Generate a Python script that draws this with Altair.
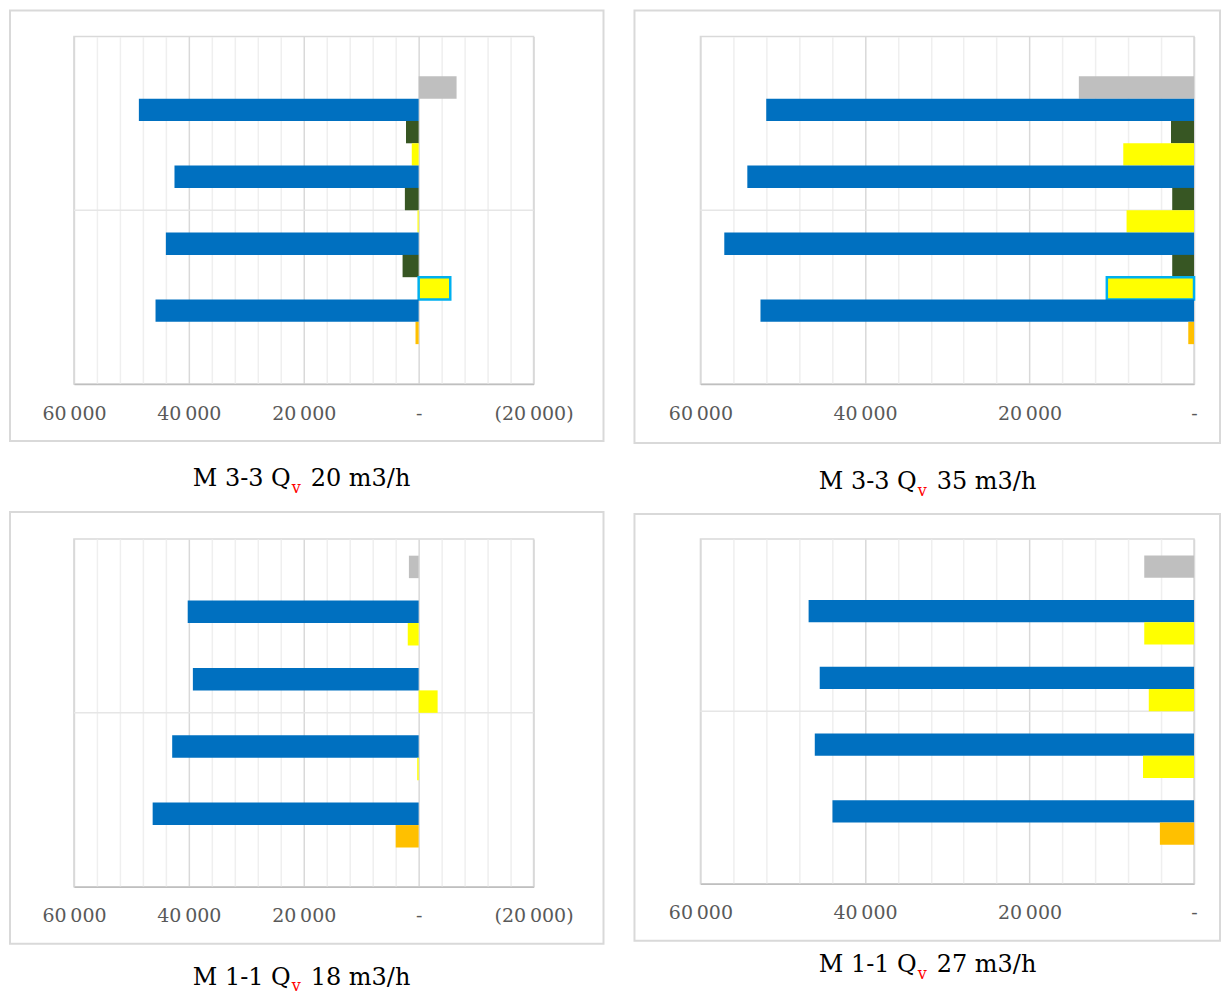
import altair as alt
import pandas as pd

# ---------------- data ----------------
# order of bar slots from top to bottom (None = empty slot)
SLOTS_TOP = ["Gray", "Blue", "Green", "Yellow", "Blue", "Green", "Yellow",
             "Blue", "Green", "Yellow", "Blue", "Orange"]
SLOTS_BOTTOM = ["Gray", None, "Blue", "Yellow", None, "Blue", "Yellow",
                None, "Blue", "Yellow", None, "Blue", "Orange", None]

VALUES_M33_Q20 = [-6600, 48700, 2200, 1200, 42500, 2400, 200, 44000, 2800, -5500, 45800, 550]
VALUES_M33_Q35 = [14000, 52000, 2800, 8600, 54300, 2650, 8200, 57100, 2650, 10600, 52700, 700]
VALUES_M11_Q18 = [1700, None, 40200, 1900, None, 39300, -3300, None, 42900, 250, None, 46300, 4000, None]
VALUES_M11_Q27 = [6050, None, 46850, 6050, None, 45500, 5500, None, 46100, 6200, None, 43950, 4150, None]

TICKS_LEFT = [-20000, -16000, -12000, -8000, -4000, 0, 4000, 8000, 12000, 16000,
              20000, 24000, 28000, 32000, 36000, 40000, 44000, 48000, 52000, 56000, 60000]
TICKS_RIGHT = [0, 4000, 8000, 12000, 16000, 20000, 24000, 28000, 32000, 36000,
               40000, 44000, 48000, 52000, 56000, 60000]

TITLE_MAIN = ["M 3-3 Q", "M 3-3 Q", "M 1-1 Q", "M 1-1 Q"]
TITLE_SUB = ["v", "v", "v", "v"]
TITLE_REST = ["20 m3/h", "35 m3/h", "18 m3/h", "27 m3/h"]

# ---------------- style ----------------
SERIES = ["Gray", "Blue", "Green", "Yellow", "Orange"]
COLORS_TOP = ["#BFBFBF", "#0070C0", "#375623", "#FFFF00", "#FFC000"]
COLORS_BOTTOM = ["#C8C8C8", "#0070C0", "#375623", "#FFFF00", "#FFC000"]
FONT = "DejaVu Serif"

LABEL_EXPR = (
    "datum.value === 0 ? '-' : (datum.value % 20000 !== 0 ? '' : "
    "(datum.value < 0 ? '(' + replace(format(-datum.value, ','), ',', '\u2009') + ')' "
    ": replace(format(datum.value, ','), ',', '\u2009')))"
)

one = pd.DataFrame({"k": [0]})


def panel(idx, slots, values, ticks, width, height, pad_outer, edge_slots, frame,
          anchor, base, sub_dy, colors, highlight=None):
    slot_ids = [f"s{i:02d}" for i in range(len(slots))]
    rows = [dict(slot=s, series=ser, value=v)
            for s, ser, v in zip(slot_ids, slots, values) if v is not None]
    df = pd.DataFrame(rows)
    domain = slot_ids
    if edge_slots:
        domain = ["pad_top"] + slot_ids + ["pad_bottom"]

    xscale = alt.Scale(domain=[min(ticks), max(ticks)], reverse=True, nice=False, zero=True)
    axis = alt.Axis(
        values=ticks, labelExpr=LABEL_EXPR, title=None, ticks=False,
        labelFont=FONT, labelFontSize=19, labelColor="#595959", labelPadding=20,
        labelOverlap=False, labelFlush=False, labelBound=False,
        domain=True, domainColor="#BFBFBF", domainWidth=1.5,
        grid=True, gridWidth=1.5,
        gridColor={"condition": {"test": "datum.value % 20000 === 0", "value": "#D9D9D9"},
                   "value": "#EFEFEF"},
    )

    if highlight is not None:
        hl = alt.datum.slot == slot_ids[highlight]
        stroke = alt.condition(hl, alt.value("#00B0F0"), alt.value("transparent"))
        sw = alt.condition(hl, alt.value(2.5), alt.value(0))
    else:
        stroke = alt.value("transparent")
        sw = alt.value(0)

    bars = alt.Chart(df).mark_bar().encode(
        x=alt.X("value:Q", scale=xscale, axis=axis),
        y=alt.Y("slot:N", scale=alt.Scale(domain=domain, paddingInner=0,
                                          paddingOuter=pad_outer), axis=None),
        color=alt.Color("series:N", scale=alt.Scale(domain=SERIES, range=colors), legend=None),
        stroke=stroke,
        strokeWidth=sw,
    )

    fl, fr, ft, fb = frame
    frame_mark = alt.Chart(one).mark_rect(fill="transparent", stroke="#D9D9D9",
                                          strokeWidth=2).encode(
        x=alt.value(fl), x2=alt.value(width + fr),
        y=alt.value(ft), y2=alt.value(height + fb))

    mid = alt.Chart(one).mark_rule(color="#E6E6E6", strokeWidth=1.5).encode(
        x=alt.value(0), x2=alt.value(width), y=alt.value(height / 2))

    t1 = alt.Chart(one).mark_text(font=FONT, fontSize=24, align="right",
                                  baseline="alphabetic", color="#000000").encode(
        x=alt.value(anchor), y=alt.value(base), text=alt.value(TITLE_MAIN[idx]))
    t2 = alt.Chart(one).mark_text(font=FONT, fontSize=16, align="left",
                                  baseline="alphabetic", color="#FF0000").encode(
        x=alt.value(anchor + 1), y=alt.value(base + sub_dy), text=alt.value(TITLE_SUB[idx]))
    t3 = alt.Chart(one).mark_text(font=FONT, fontSize=24, align="left",
                                  baseline="alphabetic", color="#000000").encode(
        x=alt.value(anchor + 20), y=alt.value(base), text=alt.value(TITLE_REST[idx]))

    return alt.layer(frame_mark, mid, bars, t1, t2, t3).properties(width=width, height=height)


p1 = panel(0, SLOTS_TOP, VALUES_M33_Q20, TICKS_LEFT, 460, 348, 0.79, True,
           (-64, 70, -26, 57), 217, 450, 7, COLORS_TOP, highlight=9)
p2 = panel(1, SLOTS_TOP, VALUES_M33_Q35, TICKS_RIGHT, 494, 348, 0.79, True,
           (-66, 26, -26, 59), 216.5, 453, 7, COLORS_TOP, highlight=9)
p3 = panel(2, SLOTS_BOTTOM, VALUES_M11_Q18, TICKS_LEFT, 460, 348, 0.745, False,
           (-64, 70, -27, 57), 217, 446, 6, COLORS_BOTTOM)
p4 = panel(3, SLOTS_BOTTOM, VALUES_M11_Q27, TICKS_RIGHT, 494, 345, 0.745, False,
           (-66, 26, -25, 57), 216.5, 433, 7, COLORS_BOTTOM)

chart = alt.concat(p1, p2, p3, p4, columns=2, spacing={"row": 155, "column": 167},
                   bounds="flush").properties(padding=0).configure_view(
    stroke="#D9D9D9", strokeWidth=1.5)

chart.save("out.html", embed_options={"renderer": "svg", "actions": False})
